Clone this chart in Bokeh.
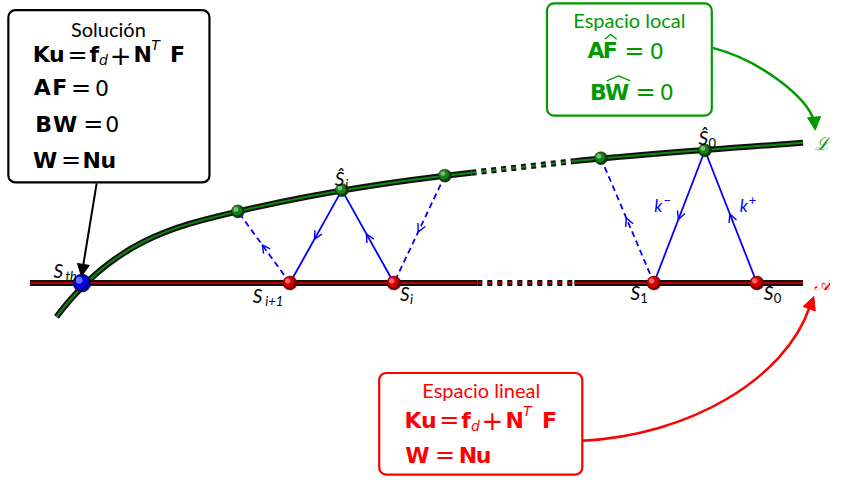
import numpy as np
from bokeh.plotting import figure
from bokeh.models import Range1d, BoxAnnotation, Arrow, NormalHead, OpenHead, ColumnDataSource
from bokeh.core.properties import value
from bokeh.embed import file_html
from bokeh.resources import INLINE

# ---------------- data (diagram points, reference-pixel units) ----------------
axis_y = 292                       # linear space line  A
axis_x = [30, 818]
axis_gap = [486, 585]              # dotted part of A
a_x = [83, 295, 401, 666, 771]     # S_th, S_{i+1}, S_i, S_1, S_0 on A
l_x = [242, 348, 453, 612, 718]    # points on L (Ŝ_i = idx1, Ŝ_0 = idx4)
l_y = [218, 196, 181, 163, 155]
# L curve as cubic Bezier pieces: (x0, y0, cx0, cy0, cx1, cy1, x1, y1, dotted)
curve_pieces = [
    (57, 327, 117, 246, 182, 232.4, 242, 218, False),
    (242, 218, 322, 198.8, 400, 186.8, 480, 178, False),
    (480, 178, 515, 174, 550, 170, 585, 166, True),
    (585, 166, 660, 158.5, 740, 152.8, 818, 147, False),
]
# search directions: (from, to, dashed); 'a' = point on A, 'l' = point on L
links = [("a2", "l1", False), ("l1", "a1", False), ("a1", "l0", True), ("l2", "a2", True),
         ("a4", "l4", False), ("l4", "a3", False), ("a3", "l3", True)]

GREEN = "#009a00"
RED = "#ff0000"
BLUE = "#0000ff"
FONT = "Lato"
MFONT = "DejaVu Sans"

W, H = 830, 477
p = figure(width=W, height=H, x_range=Range1d(0, 846), y_range=Range1d(493, 0),
           output_backend="svg", toolbar_location=None, min_border=0)
p.axis.visible = False
p.grid.visible = False
p.outline_line_color = None
p.background_fill_color = "white"


def pt(key):
    i = int(key[1])
    if key[0] == "a":
        return a_x[i], axis_y
    return l_x[i], l_y[i]


# ---------- L curve ----------
for x0, y0, cx0, cy0, cx1, cy1, x1, y1, dotted in curve_pieces:
    dash = "5 5" if dotted else "solid"
    kw = dict(x0=[x0], y0=[y0], cx0=[cx0], cy0=[cy0], cx1=[cx1], cy1=[cy1], x1=[x1], y1=[y1])
    p.bezier(**kw, line_color="#111111", line_width=6, line_dash=dash)
    p.bezier(**kw, line_color="#0c8a0c", line_width=2, line_dash=dash)

# ---------- A line ----------
for seg, dash in [((axis_x[0], axis_gap[0]), "solid"), ((axis_gap[0], axis_gap[1]), "5 5"),
                  ((axis_gap[1], axis_x[1]), "solid")]:
    p.line(list(seg), [axis_y, axis_y], line_color="#111111", line_width=6, line_dash=dash)
    p.line(list(seg), [axis_y, axis_y], line_color="#b80000", line_width=2, line_dash=dash)

# ---------- blue search directions ----------
hx0, hy0, hx1, hy1 = [], [], [], []
for f, t, dashed in links:
    x0, y0 = pt(f)
    x1, y1 = pt(t)
    p.line([x0, x1], [y0, y1], line_color=BLUE, line_width=1.8,
           line_dash="6 4" if dashed else "solid")
    d = np.array([x1 - x0, y1 - y0], float)
    d /= np.linalg.norm(d)
    mx, my = (x0 + x1) / 2, (y0 + y1) / 2
    hx0.append(mx - 4 * d[0]); hy0.append(my - 4 * d[1])
    hx1.append(mx + 3 * d[0]); hy1.append(my + 3 * d[1])
p.add_layout(Arrow(end=OpenHead(size=8, line_color=BLUE, line_width=1.4),
                   source=ColumnDataSource(dict(x0=hx0, y0=hy0, x1=hx1, y1=hy1)),
                   x_start="x0", y_start="y0", x_end="x1", y_end="y1", line_alpha=0))


# ---------- balls ----------
def balls(xs, ys, size, dark, base, light):
    xs = np.array(xs, float); ys = np.array(ys, float)
    p.scatter(xs, ys, size=size, fill_color=dark, line_color=dark, line_width=0.5)
    p.scatter(xs - size * 0.08, ys - size * 0.08, size=size * 0.78, fill_color=base, line_alpha=0)
    p.scatter(xs - size * 0.16, ys - size * 0.16, size=size * 0.38, fill_color=light, line_alpha=0,
              fill_alpha=0.85)


balls(a_x[1:], [axis_y] * 4, 14, "#7a0000", "#d40000", "#ff8080")
balls(l_x, l_y, 13, "#0a3d0a", "#1c7d1c", "#7fd07f")
balls(a_x[:1], [axis_y], 18, "#00007a", "#0000e0", "#8080ff")


# ---------- text helper ----------
def txt(x, y, s, size, color="black", style="normal", font=FONT, align="center"):
    p.text(x=[x], y=[y], text=[s], text_font=value(font), text_font_size=f"{size}px",
           text_color=color, text_font_style=style, text_align=align, text_baseline="middle")


LS, LSUB = 19, 13
# point labels
txt(59, 279, "S", LS, style="italic"); txt(72, 285, "th", LSUB, style="italic")
txt(262, 305, "S", LS, style="italic"); txt(279, 311, "i+1", LSUB, style="italic")
txt(412, 303, "S", LS, style="italic"); txt(419, 309, "i", LSUB, style="italic")
txt(345.5, 184, "Ŝ", LS, style="italic"); txt(353, 190, "i", LSUB, style="italic")
txt(716.5, 142, "Ŝ", LS, style="italic"); txt(725.5, 147, "0", LSUB)
txt(647, 302, "S", LS, style="italic"); txt(656, 307, "1", LSUB)
txt(783, 302, "S", LS, style="italic"); txt(792, 307, "0", LSUB)
txt(670.5, 212, "k", 17, BLUE, "italic"); txt(679.5, 206, "−", 13, BLUE)
txt(757.5, 212, "k", 17, BLUE, "italic"); txt(766.5, 206, "+", 13, BLUE)
txt(838, 148, "ℒ", 18, GREEN, "italic", font="DejaVu Serif")
txt(838, 292, "𝒜", 18, RED, "italic", font="DejaVu Serif")


# ---------- boxes ----------
def box(l, r, t, b, color):
    p.add_layout(BoxAnnotation(left=l, right=r, top=t, bottom=b, fill_alpha=0, line_color=color,
                               line_alpha=1, line_width=2.2, border_radius=7))


box(8, 213, 10, 188, "black")
box(557, 725, 3, 119, GREEN)
box(386, 593, 385, 490, RED)

EQ, EQS, PL, SUB = 22, 24, 26, 14
# kinds: b = bold letter, o = operator '=', p = '+', n = digit, s = subscript, u = superscript
STY = {"b": (EQ, "bold", 0), "o": (EQS, "normal", 0), "p": (PL, "normal", 0),
       "n": (EQ, "normal", 0), "s": (SUB, "italic", 6), "u": (SUB, "italic", -10)}


def eqline(y, items, c):
    for ch, x, k in items:
        size, st, dy = STY[k]
        txt(x, y + dy, ch, size, c, st, font=MFONT)


def ku_line(x0):
    rel = [("K", 8.5, "b"), ("u", 24.5, "b"), ("=", 45.5, "o"), ("f", 62.5, "b"), ("d", 72, "s"),
           ("+", 89.5, "p"), ("N", 112, "b"), ("T", 125, "u"), ("F", 147.5, "b")]
    return [(ch, x0 + dx, k) for ch, dx, k in rel]


# Solución
txt(110, 29, "Solución", 20)
eqline(56, ku_line(33), "black")
eqline(90, [("A", 42.5, "b"), ("F", 60.5, "b"), ("=", 82, "o"), ("0", 103.5, "n")], "black")
eqline(128, [("B", 44, "b"), ("W", 66, "b"), ("=", 94.5, "o"), ("0", 114, "n")], "black")
eqline(165, [("W", 45.5, "b"), ("=", 72, "o"), ("N", 93, "b"), ("u", 110, "b")], "black")

# Espacio local
txt(641, 20, "Espacio local", 20, GREEN)
eqline(52, [("A", 607, "b"), ("F", 621.5, "b"), ("=", 646, "o"), ("0", 669, "n")], GREEN)
eqline(95, [("B", 609.5, "b"), ("W", 628.5, "b"), ("=", 657.5, "o"), ("0", 679, "n")], GREEN)
p.multi_line([[616, 622, 628], [618, 630, 642]], [[40, 35, 40], [83, 78, 83]],
             line_color=GREEN, line_width=1.3)

# Espacio lineal
txt(490, 403, "Espacio lineal", 20, RED)
eqline(434, ku_line(412), RED)
eqline(470, [("W", 425, "b"), ("=", 453, "o"), ("N", 476.5, "b"), ("u", 492.5, "b")], RED)

# ---------- arrows from boxes ----------
p.add_layout(Arrow(end=NormalHead(size=12, fill_color="black", line_color="black"),
                   x_start=98, y_start=189, x_end=82.5, y_end=285, line_width=2, line_color="black"))

p.bezier(x0=[726], y0=[49], cx0=[775], cy0=[62], cx1=[822], cy1=[100], x1=[829], y1=[124],
         line_color=GREEN, line_width=2.5)
p.add_layout(Arrow(end=NormalHead(size=13, fill_color=GREEN, line_color=GREEN),
                   x_start=829, y_start=118, x_end=830.5, y_end=134, line_alpha=0))

p.bezier(x0=[593], y0=[455], cx0=[700], cy0=[450], cx1=[800], cy1=[392], x1=[825], y1=[316],
         line_color=RED, line_width=2.5)
p.add_layout(Arrow(end=NormalHead(size=13, fill_color=RED, line_color=RED),
                   x_start=823, y_start=322, x_end=829, y_end=306, line_alpha=0))

open("out.html", "w").write(file_html(p, INLINE))
